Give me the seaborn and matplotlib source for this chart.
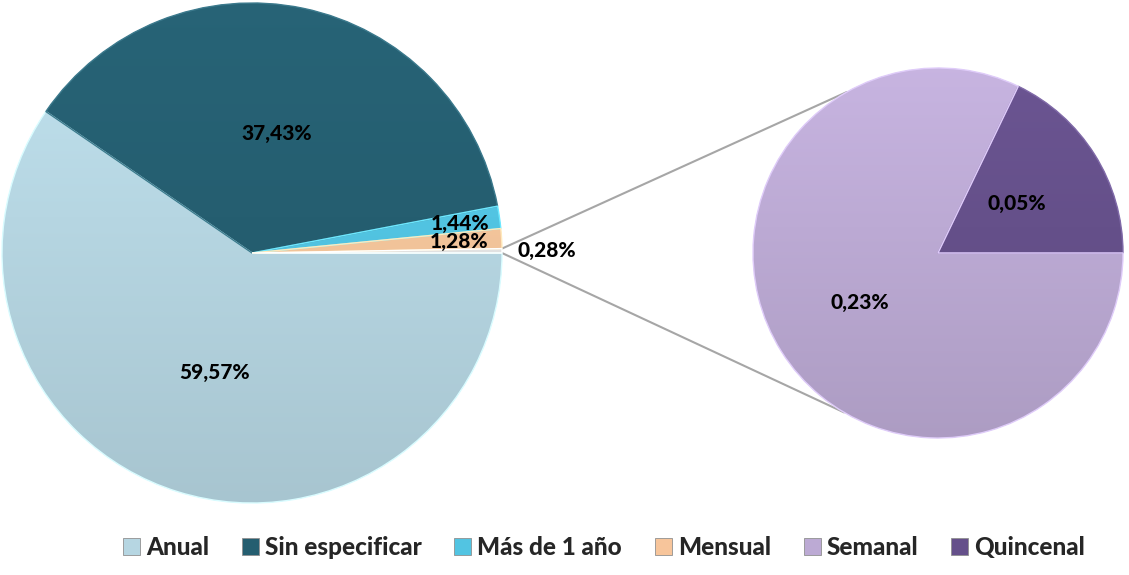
import numpy as np
import matplotlib
matplotlib.use("Agg")
import matplotlib.pyplot as plt
import matplotlib.colors as mcolors
from matplotlib.patches import Wedge
import seaborn as sns

# datos (porcentaje sobre el total)
main_labels = ["Anual", "Sin especificar", "Más de 1 año", "Mensual", "Otros"]
main_values = [59.57, 37.43, 1.44, 1.28, 0.28]
sub_labels = ["Quincenal", "Semanal"]
sub_values = [0.05, 0.23]
legend_order = ["Anual", "Sin especificar", "Más de 1 año", "Mensual", "Semanal", "Quincenal"]

main_colors = ["#b6d6e2", "#255e70", "#52c4e2", "#f7c59b", "#e4e4e4"]
sub_colors = ["#65508a", "#bcaad4"]

sns.set_theme(style="white")
plt.rcParams["font.family"] = ["Lato", "DejaVu Sans"]

W, H = 1129, 575
fig = plt.figure(figsize=(W / 100, H / 100), dpi=100)
ax = fig.add_axes([0, 0, 1, 1])

c1, r1 = (252, 322), 250
c2, r2 = (938, 322), 185


def fmt(v):
    return f"{v:.2f}".replace(".", ",") + "%"


def shade(ax, wedges, center, r, colors):
    # degradado vertical suave recortado a cada sector
    for w, col in zip(wedges, colors):
        base = np.array(mcolors.to_rgb(col))
        top = np.clip(base * 1.06, 0, 1)
        bot = base * 0.92
        t = np.linspace(0, 1, 256)[:, None]
        grad = top * (1 - t) + bot * t
        img = np.repeat(grad[:, None, :], 2, axis=1)
        im = ax.imshow(img, extent=(center[0] - r, center[0] + r, center[1] - r, center[1] + r),
                       origin="upper", aspect="auto", zorder=2, interpolation="bilinear")
        im.set_clip_path(w)
        w.set_zorder(1)
        ax.add_patch(Wedge(w.center, w.r, w.theta1, w.theta2, facecolor="none",
                           edgecolor=tuple(np.clip(base * 1.08 + 0.08, 0, 1)),
                           linewidth=1.0, zorder=3))


wedges1, _ = ax.pie(main_values, center=c1, radius=r1, startangle=0, counterclock=False,
                    colors=main_colors, wedgeprops=dict(linewidth=0))
wedges2, _ = ax.pie(sub_values, center=c2, radius=r2, startangle=0, counterclock=True,
                    colors=sub_colors, wedgeprops=dict(linewidth=0))
shade(ax, wedges1, c1, r1, main_colors)
shade(ax, wedges2, c2, r2, sub_colors)

# etiquetas
lbl = dict(ha="center", va="center", fontsize=15, fontweight="black", color="black", zorder=5)
main_dist = [0.5, 0.49, 0.84, 0.83, 1.18]
for w, v, d in zip(wedges1, main_values, main_dist):
    a = np.deg2rad((w.theta1 + w.theta2) / 2)
    ax.text(c1[0] + r1 * d * np.cos(a), c1[1] + r1 * d * np.sin(a), fmt(v), **lbl)
for w, v in zip(wedges2, sub_values):
    a = np.deg2rad((w.theta1 + w.theta2) / 2)
    ax.text(c2[0] + r2 * 0.5 * np.cos(a), c2[1] + r2 * 0.5 * np.sin(a), fmt(v), **lbl)

# líneas de conexión
other = wedges1[-1]
p_top = np.deg2rad(max(other.theta1, other.theta2) % 360)
p_bot = np.deg2rad(min(other.theta1, other.theta2) % 360)
for a1, a2 in [(p_top, np.deg2rad(119.5)), (p_bot, np.deg2rad(-120.5))]:
    ax.plot([c1[0] + r1 * np.cos(a1), c2[0] + r2 * np.cos(a2)],
            [c1[1] + r1 * np.sin(a1), c2[1] + r2 * np.sin(a2)],
            color="#a6a6a6", linewidth=1.5, zorder=0)

# leyenda
lookup = dict(zip(main_labels, wedges1))
lookup.update(dict(zip(sub_labels, wedges2)))
handles = [lookup[k] for k in legend_order]
leg = ax.legend(handles, legend_order, loc="center", bbox_to_anchor=(0.535, 0.047),
                ncol=6, frameon=False, handlelength=0.7, handleheight=0.7,
                handletextpad=0.25, columnspacing=1.35,
                prop=dict(family=["Lato", "DejaVu Sans"], weight="black", size=17.5))
for h in leg.legend_handles:
    h.set_edgecolor("#909090")
    h.set_linewidth(0.6)

ax.set_xlim(0, W)
ax.set_ylim(0, H)
ax.set_aspect("equal")
ax.axis("off")

fig.savefig("out.png", dpi=100)
